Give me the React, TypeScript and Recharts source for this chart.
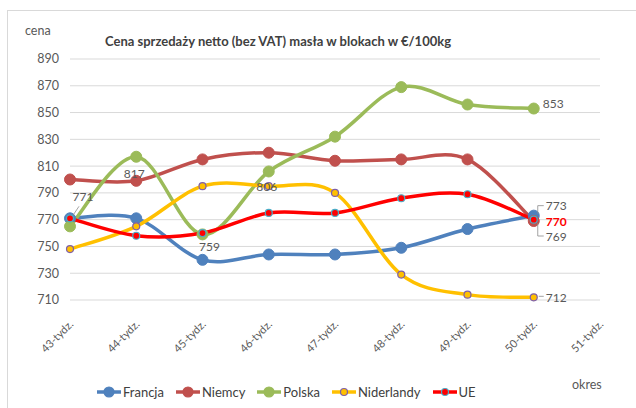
import React from "react";
import {
  LineChart,
  Line,
  XAxis,
  YAxis,
  CartesianGrid,
  Legend,
  LabelList,
} from "recharts";

const weeks = [
  "43-tydz.",
  "44-tydz.",
  "45-tydz.",
  "46-tydz.",
  "47-tydz.",
  "48-tydz.",
  "49-tydz.",
  "50-tydz.",
  "51-tydz.",
];
const francja = [771, 771, 740, 744, 744, 749, 763, 773, null];
const niemcy = [800, 799, 815, 820, 814, 815, 815, 769, null];
const polska = [765, 817, 759, 806, 832, 869, 856, 853, null];
const niderlandy = [748, 765, 795, 795, 790, 729, 714, 712, null];
const ue = [771, 758, 760, 775, 775, 786, 789, 770, null];
const yTicks = [710, 730, 750, 770, 790, 810, 830, 850, 870, 890];

const data = weeks.map((week, i) => ({
  week,
  Francja: francja[i],
  Niemcy: niemcy[i],
  Polska: polska[i],
  Niderlandy: niderlandy[i],
  UE: ue[i],
}));

const FONT = "Lato, 'Open Sans', sans-serif";

// Excel-style smoothing (Catmull-Rom converted to cubic beziers)
const excelCurve = (context: any) => {
  let xs: number[] = [];
  let ys: number[] = [];
  return {
    areaStart() {},
    areaEnd() {},
    lineStart() {
      xs = [];
      ys = [];
    },
    lineEnd() {
      const n = xs.length;
      if (!n) return;
      context.moveTo(xs[0], ys[0]);
      for (let i = 0; i < n - 1; i++) {
        const p = Math.max(i - 1, 0);
        const q = Math.min(i + 2, n - 1);
        context.bezierCurveTo(
          xs[i] + (xs[i + 1] - xs[p]) / 6,
          ys[i] + (ys[i + 1] - ys[p]) / 6,
          xs[i + 1] - (xs[q] - xs[i]) / 6,
          ys[i + 1] - (ys[q] - ys[i]) / 6,
          xs[i + 1],
          ys[i + 1]
        );
      }
    },
    point(x: number, y: number) {
      xs.push(+x);
      ys.push(+y);
    },
  };
};

type Spot = { dx: number; dy: number; anchor?: string; color?: string; bold?: boolean; leader?: string };

const makeLabel = (spots: Record<number, Spot>) => (props: any) => {
  const { x, y, value, index } = props;
  const s = spots[index];
  if (!s || value == null) return null;
  return (
    <g>
      {s.leader && (
        <path
          d={s.leader.replace(/X([+-]?\d+)/g, (_m, d) => String(x + +d)).replace(/Y([+-]?\d+)/g, (_m, d) => String(y + +d))}
          stroke="#8c8c8c"
          strokeWidth={0.8}
          fill="none"
        />
      )}
      <text
        x={x + s.dx}
        y={y + s.dy}
        textAnchor={s.anchor || "middle"}
        dominantBaseline="central"
        fontFamily={FONT}
        fontSize={12}
        fontWeight={s.bold ? 700 : 400}
        fill={s.color || "#595959"}
      >
        {value}
      </text>
    </g>
  );
};

const francjaLabel = makeLabel({
  0: { dx: 13, dy: -22, leader: "M X+3 Y-3 L X+9 Y-12" },
  7: { dx: 12, dy: -10, anchor: "start", leader: "M X+4 Y-2 L X+4 Y-10 L X+10 Y-10" },
});
const niemcyLabel = makeLabel({
  7: { dx: 12, dy: 15, anchor: "start", leader: "M X+4 Y+2 L X+4 Y+15 L X+10 Y+15" },
});
const polskaLabel = makeLabel({
  1: { dx: -2, dy: 17 },
  2: { dx: 7, dy: 12 },
  3: { dx: -2, dy: 15 },
  7: { dx: 9, dy: -5, anchor: "start" },
});
const niderlandyLabel = makeLabel({
  7: { dx: 12, dy: 0, anchor: "start", leader: "M X+5 Y-1 L X+10 Y-1" },
});
const ueLabel = makeLabel({
  7: { dx: 12, dy: 2, anchor: "start", color: "#ff0000", bold: true },
});

const WeekTick = (props: any) => {
  const { x, y, payload } = props;
  return (
    <g transform={`translate(${x + 4},${y + 25}) rotate(-45)`}>
      <text x={0} y={0} textAnchor="end" fontFamily={FONT} fontSize={11} fill="#595959">
        {payload.value}
      </text>
    </g>
  );
};

const legendItems = [
  { name: "Francja", color: "#4f81bd", dot: "#4f81bd", ring: "#4f81bd", r: 5 },
  { name: "Niemcy", color: "#c0504d", dot: "#c0504d", ring: "#c0504d", r: 5 },
  { name: "Polska", color: "#9bbb59", dot: "#9bbb59", ring: "#9bbb59", r: 5 },
  { name: "Niderlandy", color: "#ffc000", dot: "#ffc000", ring: "#7f5fa8", r: 3.5 },
  { name: "UE", color: "#ff0000", dot: "#ff0000", ring: "#4bacc6", r: 3.5 },
];

const LegendContent = () => (
  <div style={{ display: "flex", alignItems: "center", paddingLeft: 97, fontFamily: FONT, fontSize: 13, color: "#404040" }}>
    {legendItems.map((it) => (
      <div key={it.name} style={{ display: "flex", alignItems: "center", marginRight: 12 }}>
        <svg width={24} height={12} style={{ marginRight: 2 }}>
          <line x1={0} y1={6} x2={24} y2={6} stroke={it.color} strokeWidth={3.5} />
          <circle cx={12} cy={6} r={it.r} fill={it.dot} stroke={it.ring} strokeWidth={1.2} />
        </svg>
        <span>{it.name}</span>
      </div>
    ))}
  </div>
);

export default function App() {
  return (
    <div style={{ position: "absolute", left: 0, top: 0, width: 636, height: 408, overflow: "hidden", background: "#fff" }}>
      <div
        style={{
          position: "absolute",
          left: 7,
          top: 10,
          width: 700,
          height: 500,
          borderLeft: "1px solid #d9d9d9",
          borderTop: "1px solid #d9d9d9",
        }}
      />
      <div style={{ position: "absolute", left: 25, top: 23, fontFamily: FONT, fontSize: 12.5, color: "#595959" }}>cena</div>
      <div
        style={{
          position: "absolute",
          left: 105,
          top: 33,
          fontFamily: FONT,
          fontSize: 13,
          fontWeight: 700,
          color: "#404040",
          whiteSpace: "nowrap",
        }}
      >
        Cena sprzedaży netto (bez VAT) masła w blokach w €/100kg
      </div>
      <div style={{ position: "absolute", left: 572, top: 377, fontFamily: FONT, fontSize: 12.5, color: "#595959" }}>okres</div>
      <div style={{ position: "absolute", left: 0, top: 0 }}>
        <LineChart width={636} height={408} data={data} margin={{ top: 59, right: 36, left: 10, bottom: 48 }}>
          <CartesianGrid horizontal vertical={false} stroke="#d9d9d9" strokeWidth={1} />
          <XAxis
            dataKey="week"
            axisLine={false}
            tickLine={false}
            tickSize={0}
            tickMargin={0}
            height={60}
            interval={0}
            padding={{ left: 0, right: 0 }}
            tick={<WeekTick />}
          />
          <YAxis
            domain={[710, 890]}
            ticks={yTicks}
            width={60}
            axisLine={false}
            tickLine={false}
            tickMargin={5}
            tick={{ fontFamily: FONT, fontSize: 12.5, fill: "#595959" }}
          />
          <Legend verticalAlign="middle" layout="horizontal" wrapperStyle={{ top: 384, left: 0, width: 636 }} content={<LegendContent />} />
          <Line
            dataKey="Francja"
            type={excelCurve as any}
            stroke="#4f81bd"
            strokeWidth={3.5}
            dot={{ r: 5.5, fill: "#4f81bd", stroke: "#4f81bd", strokeWidth: 1 }}
            isAnimationActive={false}
          >
            <LabelList dataKey="Francja" content={francjaLabel} />
          </Line>
          <Line
            dataKey="Niemcy"
            type={excelCurve as any}
            stroke="#c0504d"
            strokeWidth={3.5}
            dot={{ r: 5.5, fill: "#c0504d", stroke: "#c0504d", strokeWidth: 1 }}
            isAnimationActive={false}
          >
            <LabelList dataKey="Niemcy" content={niemcyLabel} />
          </Line>
          <Line
            dataKey="Polska"
            type={excelCurve as any}
            stroke="#9bbb59"
            strokeWidth={3.5}
            dot={{ r: 5.5, fill: "#9bbb59", stroke: "#9bbb59", strokeWidth: 1 }}
            isAnimationActive={false}
          >
            <LabelList dataKey="Polska" content={polskaLabel} />
          </Line>
          <Line
            dataKey="Niderlandy"
            type={excelCurve as any}
            stroke="#ffc000"
            strokeWidth={3.5}
            dot={{ r: 3.5, fill: "#ffc000", stroke: "#7f5fa8", strokeWidth: 1.2 }}
            isAnimationActive={false}
          >
            <LabelList dataKey="Niderlandy" content={niderlandyLabel} />
          </Line>
          <Line
            dataKey="UE"
            type={excelCurve as any}
            stroke="#ff0000"
            strokeWidth={3.5}
            dot={{ r: 3.5, fill: "#ff0000", stroke: "#4bacc6", strokeWidth: 1.2 }}
            isAnimationActive={false}
          >
            <LabelList dataKey="UE" content={ueLabel} />
          </Line>
        </LineChart>
      </div>
    </div>
  );
}
